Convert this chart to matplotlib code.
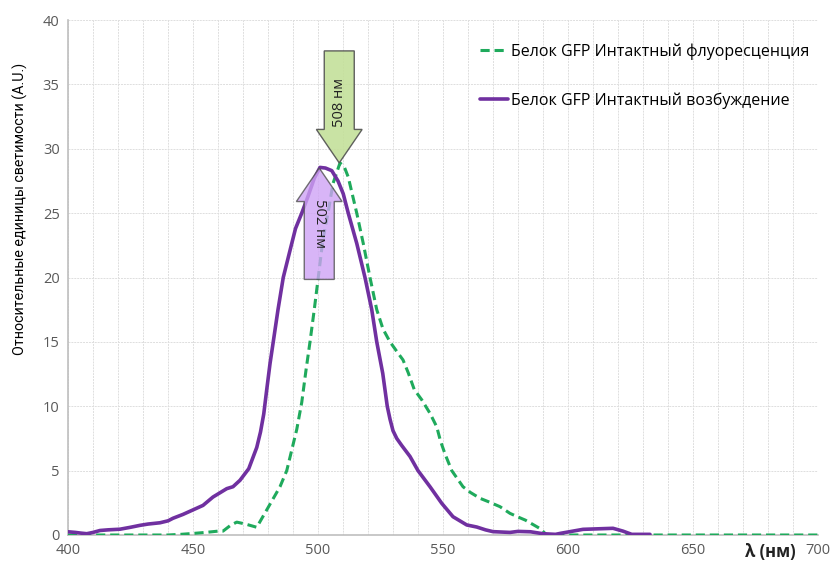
import matplotlib
matplotlib.use('Agg')
import matplotlib.pyplot as plt
from matplotlib.patches import FancyArrow
import numpy as np

plt.rcParams['font.family'] = ['Open Sans', 'DejaVu Sans']

# флуоресценция (green, dashed)
wl_fl = [400, 410, 420, 430, 440, 445, 450, 455, 460, 462, 465, 467.5, 471, 475.5,
         479.5, 484.8, 487.5, 491.5, 493.5, 495.2, 496.8, 498.5, 500.1, 502, 504,
         506, 508.8, 510.5, 512.1, 515.5, 518.1, 520.8, 523.5, 526, 528.8, 532.1,
         534, 536.1, 538.5, 541.5, 544.8, 547.5, 549, 550.8, 553.5, 558, 561, 564.8,
         568, 572.8, 576.8, 580, 583, 588.8, 591.5, 600, 650, 700]
fl = [0, 0, 0, 0, 0, 0.05, 0.12, 0.2, 0.3, 0.3, 0.75, 1.0, 0.85, 0.6,
      1.95, 3.75, 5.0, 8.2, 10.3, 12.8, 15, 17.5, 20, 23, 25,
      27.3, 28.9, 28.6, 27.8, 25, 22.65, 20, 17.5, 16, 15, 14.1,
      13.6, 12.6, 11.3, 10.5, 9.45, 8.4, 7.3, 6.3, 5.0, 3.75, 3.3, 2.85,
      2.6, 2.2, 1.68, 1.4, 1.15, 0.5, 0.0, 0, 0, 0]

# возбуждение (purple, solid)
wl_ex = [400, 403, 405, 407.5, 410, 412.8, 416, 420.8, 425, 428.8, 432, 436.8, 440,
         442, 446, 450, 454, 458, 463.5, 466, 468.8, 472.3, 475.5, 477, 478.3, 479.5,
         480.8, 482.1, 484, 486.1, 488.8, 491, 493.5, 496, 498.5, 500.8, 503, 505.5,
         508, 510.1, 512.1, 515.5, 518.8, 521.5, 523.5, 525.9, 527.7, 528.8, 530,
         531.5, 533.5, 536.8, 540, 544.8, 549.5, 554, 559.5, 563.5, 567, 570, 576.8,
         580, 585, 590, 595, 597, 606, 612, 618, 622, 625.5, 632.8]
ex = [0.25, 0.2, 0.15, 0.1, 0.2, 0.35, 0.4, 0.45, 0.6, 0.75, 0.85, 0.95, 1.1,
      1.3, 1.6, 1.95, 2.3, 2.95, 3.6, 3.75, 4.25, 5.15, 6.8, 8.0, 9.4, 11.3,
      13.3, 15, 17.5, 20, 22.1, 23.8, 25, 26.3, 27.7, 28.55, 28.5, 28.3,
      27.5, 26.5, 25, 22.65, 20, 17.5, 15, 12.55, 10, 9.0, 8.1,
      7.5, 6.95, 6.1, 5.0, 3.75, 2.46, 1.42, 0.78, 0.62, 0.4, 0.26, 0.2,
      0.28, 0.25, 0.1, 0.05, 0.13, 0.44, 0.48, 0.52, 0.3, 0.05, 0.05]

label_fl = 'Белок GFP Интактный флуоресценция'
label_ex = 'Белок GFP Интактный возбуждение'

fig = plt.figure(figsize=(8.3, 5.65), dpi=100)
ax = fig.add_axes([68/830, 30/565, 750/830, 515/565])

ax.plot(wl_fl, fl, color='#1faa5c', lw=2.2, ls=(0, (3, 1.6)), label=label_fl, zorder=3,
        dash_joinstyle='round')
ax.plot(wl_ex, ex, color='#7030a0', lw=2.6, label=label_ex, zorder=4,
        solid_joinstyle='round', solid_capstyle='round')

# стрелки пиков
ar1 = FancyArrow(508.5, 37.6, 0, 28.9-37.6, width=12, head_width=18.3, head_length=2.6,
                 length_includes_head=True, fc='#c4e09a', ec='#505050', lw=1, alpha=0.9, zorder=5)
ar2 = FancyArrow(500.5, 19.85, 0, 28.5-19.85, width=12, head_width=18.3, head_length=2.6,
                 length_includes_head=True, fc='#cfa3f5', ec='#505050', lw=1, alpha=0.8, zorder=5)
ax.add_patch(ar1)
ax.add_patch(ar2)
ax.text(508.5, 33.6, '508 нм', rotation=90, ha='center', va='center', fontsize=10.5,
        color='#222222', zorder=6)
ax.text(500.5, 24.2, '502 нм', rotation=270, ha='center', va='center', fontsize=10.5,
        color='#222222', zorder=6)

ax.set_xlim(400, 700)
ax.set_ylim(0, 40)
ax.set_xticks(np.arange(400, 701, 50))
ax.set_xticks(np.arange(400, 701, 10), minor=True)
ax.set_yticks(np.arange(0, 41, 5))
ax.grid(True, which='both', axis='x', color='#dedede', ls=(0, (2, 1)), lw=0.7)
ax.grid(True, which='major', axis='y', color='#dedede', ls=(0, (2, 1)), lw=0.7)
ax.set_axisbelow(True)
ax.tick_params(which='both', length=0, labelsize=10.5, colors='#595959', pad=6)
for s in ['top', 'right']:
    ax.spines[s].set_visible(False)
for s in ['left', 'bottom']:
    ax.spines[s].set_color('#bfbfbf')
    ax.spines[s].set_linewidth(1.2)

ax.legend(loc='upper left', bbox_to_anchor=((480-68)/750, (535-43)/515), frameon=False,
          fontsize=11.5, handlelength=1.75, handletextpad=0.2, labelspacing=2.05,
          borderpad=0, borderaxespad=0)

fig.text(20/830, 1 - 209/565, 'Относительные единицы светимости (A.U.)', rotation=90,
         ha='center', va='center', fontsize=10.3, family=['Roboto', 'DejaVu Sans'],
         color='#000000')
fig.text(770/830, 1 - 552/565, 'λ (нм)', ha='center', va='center', fontsize=12,
         fontweight='bold', color='#222222')

fig.savefig('out.png', dpi=100)
